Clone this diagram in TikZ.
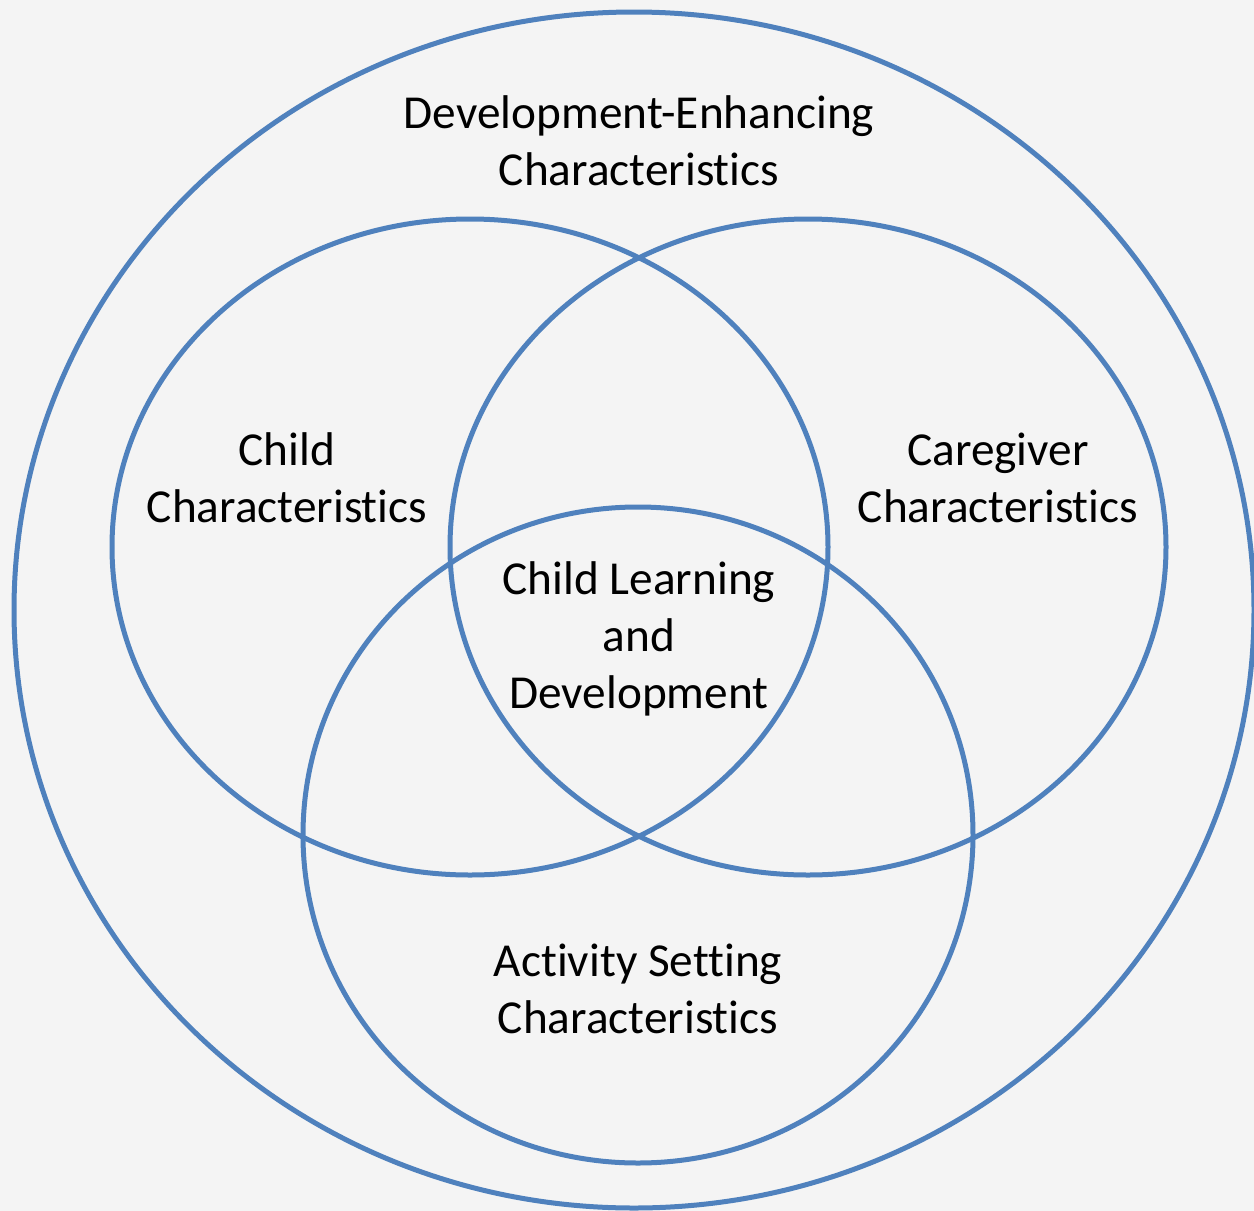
\documentclass[tikz,border=0pt]{standalone}
\usepackage{fontspec}
\setmainfont[RawFeature={-liga;-clig;-dlig;-calt}]{Carlito}
\definecolor{ringblue}{HTML}{4F81BD}
\definecolor{paper}{HTML}{F4F4F4}
\tikzset{
  ring/.style={draw=ringblue, line width=5pt},
  lbl/.style={anchor=base, align=center, inner sep=0pt, text=black,
    font=\fontsize{47.3}{57}\selectfont}
}
\begin{document}
\begin{tikzpicture}[x=1pt,y=-1pt]
\clip (0,0) rectangle (1254,1211);
\fill[paper] (0,0) rectangle (1254,1211);
\useasboundingbox (0,0) rectangle (1254,1211);
\draw[ring] (634,610) ellipse [x radius=620pt, y radius=598pt];
\draw[ring] (470,547) ellipse [x radius=358pt, y radius=328pt];
\draw[ring] (808,547) ellipse [x radius=358pt, y radius=328pt];
\draw[ring] (638,835) ellipse [x radius=335pt, y radius=328pt];
\node[lbl] (outer) at (639,185) {Development-Enhancing\\Characteristics};
\node[lbl] (child) at (287,522) {Child\\Characteristics};
\node[lbl] (care) at (998,522) {Caregiver\\Characteristics};
\node[lbl] (center) at (639,708) {Child Learning\\and\\Development};
\node[lbl] (activity) at (638,1033) {Activity Setting\\Characteristics};
\end{tikzpicture}
\end{document}
